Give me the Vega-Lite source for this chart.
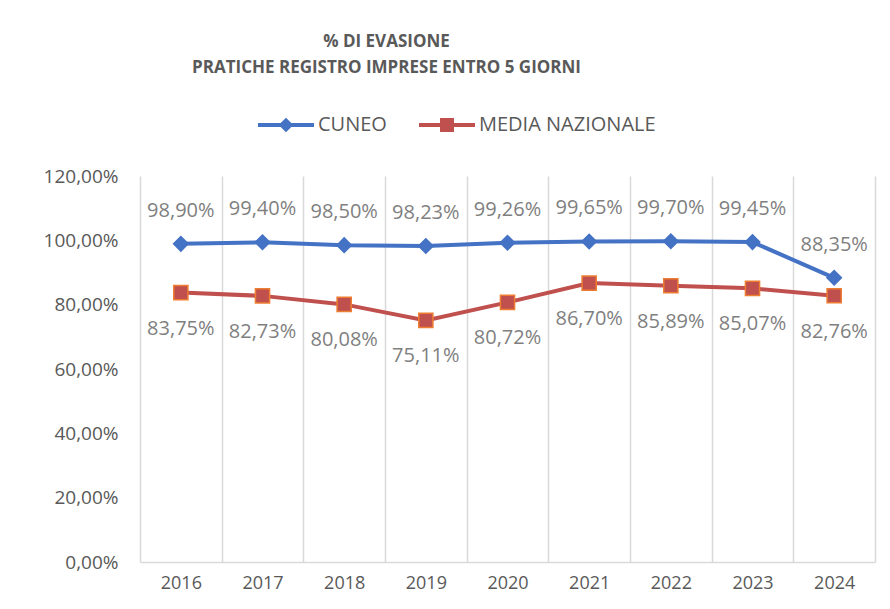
{
  "$schema": "https://vega.github.io/schema/vega-lite/v6.json",
  "autosize": "none",
  "width": 735,
  "height": 386,
  "padding": {"left": 140, "top": 176, "right": 15, "bottom": 47},
  "background": "#ffffff",
  "config": {"view": {"stroke": null}, "font": "Open Sans"},
  "title": {
    "text": ["% DI EVASIONE", "PRATICHE REGISTRO IMPRESE ENTRO 5 GIORNI"],
    "fontSize": 17,
    "fontWeight": "bold",
    "color": "#595959",
    "font": "Open Sans",
    "anchor": "middle",
    "frame": "group",
    "dx": -121,
    "offset": 38,
    "lineHeight": 26
  },
  "data": {
    "values": [
      {"year": "2016", "series": "CUNEO", "value": 98.90},
      {"year": "2017", "series": "CUNEO", "value": 99.40},
      {"year": "2018", "series": "CUNEO", "value": 98.50},
      {"year": "2019", "series": "CUNEO", "value": 98.23},
      {"year": "2020", "series": "CUNEO", "value": 99.26},
      {"year": "2021", "series": "CUNEO", "value": 99.65},
      {"year": "2022", "series": "CUNEO", "value": 99.70},
      {"year": "2023", "series": "CUNEO", "value": 99.45},
      {"year": "2024", "series": "CUNEO", "value": 88.35},
      {"year": "2016", "series": "MEDIA NAZIONALE", "value": 83.75},
      {"year": "2017", "series": "MEDIA NAZIONALE", "value": 82.73},
      {"year": "2018", "series": "MEDIA NAZIONALE", "value": 80.08},
      {"year": "2019", "series": "MEDIA NAZIONALE", "value": 75.11},
      {"year": "2020", "series": "MEDIA NAZIONALE", "value": 80.72},
      {"year": "2021", "series": "MEDIA NAZIONALE", "value": 86.70},
      {"year": "2022", "series": "MEDIA NAZIONALE", "value": 85.89},
      {"year": "2023", "series": "MEDIA NAZIONALE", "value": 85.07},
      {"year": "2024", "series": "MEDIA NAZIONALE", "value": 82.76}
    ]
  },
  "transform": [
    {"calculate": "replace(format(datum.value, '.2f'), '.', ',') + '%'", "as": "label"}
  ],
  "encoding": {
    "x": {
      "field": "year",
      "type": "ordinal",
      "scale": {"type": "band", "paddingInner": 0, "paddingOuter": 0},
      "axis": {
        "title": null,
        "labelAngle": 0,
        "tickBand": "extent",
        "ticks": false,
        "grid": true,
        "gridColor": "#d9d9d9",
        "gridWidth": 1.5,
        "domainColor": "#d9d9d9",
        "domainWidth": 1.5,
        "labelFontSize": 18,
        "labelColor": "#595959",
        "labelPadding": 12,
        "labelFont": "Open Sans"
      }
    },
    "y": {
      "field": "value",
      "type": "quantitative",
      "scale": {"domain": [0, 120], "nice": false},
      "axis": {
        "title": null,
        "domain": false,
        "ticks": false,
        "grid": false,
        "values": [0, 20, 40, 60, 80, 100, 120],
        "labelExpr": "replace(format(datum.value, '.2f'), '.', ',') + '%'",
        "labelFontSize": 19,
        "labelColor": "#595959",
        "labelPadding": 22,
        "labelFont": "Open Sans"
      }
    }
  },
  "layer": [
    {
      "mark": {"type": "line", "strokeWidth": 4},
      "encoding": {
        "color": {
          "field": "series",
          "type": "nominal",
          "scale": {"domain": ["CUNEO", "MEDIA NAZIONALE"], "range": ["#4472C4", "#C0504D"]},
          "legend": {
            "title": null,
            "orient": "none",
            "direction": "horizontal",
            "legendX": 136,
            "legendY": -61,
            "labelFontSize": 20,
            "labelColor": "#595959",
            "labelFont": "Open Sans",
            "labelOffset": 22,
            "labelLimit": 400,
            "columnPadding": 32,
            "symbolSize": 196,
            "encode": {
              "symbols": {
                "update": {
                  "shape": {"signal": "datum.value === 'CUNEO' ? 'M-4,-0.3H4V0.3H-4Z M0,-1.05L1.05,0L0,1.05L-1.05,0Z' : 'M-4,-0.3H4V0.3H-4Z M-1,-1H1V1H-1Z'"},
                  "fill": {"signal": "datum.value === 'CUNEO' ? '#4472C4' : '#C0504D'"},
                  "strokeWidth": {"value": 0},
                  "opacity": {"value": 1},
                  "size": {"value": 196}
                }
              }
            }
          }
        }
      }
    },
    {
      "transform": [{"filter": "datum.series === 'CUNEO'"}],
      "mark": {"type": "point", "shape": "diamond", "filled": true, "size": 210, "strokeWidth": 1.5, "opacity": 1, "stroke": "#4472C4"},
      "encoding": {
        "color": {"field": "series", "type": "nominal"}
      }
    },
    {
      "transform": [{"filter": "datum.series === 'MEDIA NAZIONALE'"}],
      "mark": {"type": "point", "shape": "square", "filled": true, "size": 200, "strokeWidth": 1.5, "opacity": 1, "stroke": "#ED7D31"},
      "encoding": {
        "color": {"field": "series", "type": "nominal"}
      }
    },
    {
      "transform": [{"filter": "datum.series === 'CUNEO'"}],
      "mark": {"type": "text", "dy": -33, "fontSize": 20, "color": "#7f7f7f", "font": "Open Sans"},
      "encoding": {"text": {"field": "label"}}
    },
    {
      "transform": [{"filter": "datum.series === 'MEDIA NAZIONALE'"}],
      "mark": {"type": "text", "dy": 36, "fontSize": 20, "color": "#7f7f7f", "font": "Open Sans"},
      "encoding": {"text": {"field": "label"}}
    }
  ]
}
